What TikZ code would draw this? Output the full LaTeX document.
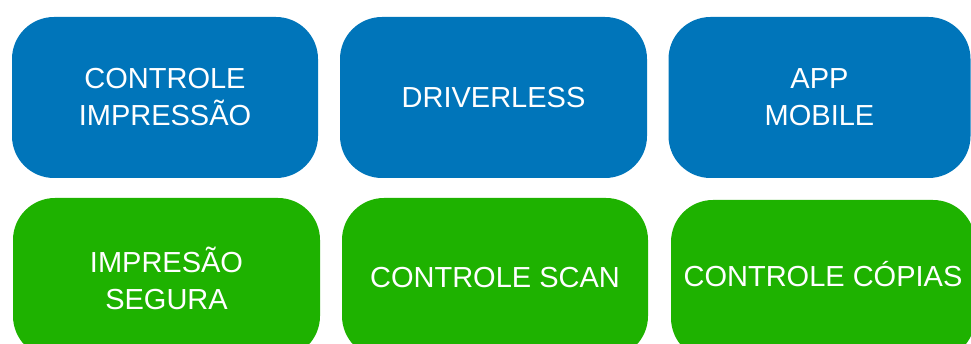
\documentclass[tikz,border=0pt]{standalone}
\usepackage{fontspec}
\setmainfont{Liberation Sans}
\usepackage{tikz}
\usetikzlibrary{positioning}
\definecolor{tileblue}{RGB}{0,117,186}
\definecolor{tilegreen}{RGB}{30,178,0}

\begin{document}
\begin{tikzpicture}[x=1pt,y=-1pt,
  tile/.style={rounded corners=42pt,draw=none,align=center,text=white,
    font=\fontsize{29}{37}\selectfont,inner sep=0pt},
  toptile/.style={tile,fill=tileblue,minimum height=161pt},
  bottile/.style={tile,fill=tilegreen,minimum height=160pt}]
 \useasboundingbox (0,0) rectangle (971,344);
 \clip (0,0) rectangle (971,344);
%top row
  \node[toptile,minimum width=306pt] (impr) at (165,97.5) {CONTROLE\\IMPRESSÃO};
  \node[toptile,minimum width=307pt] (driver) at (493.5,97.5) {DRIVERLESS};
  \node[toptile,minimum width=302pt] (app) at (819.5,97.5) {APP\\MOBILE};
%bottom row
  \node[bottile,minimum width=307pt] (segura) at (166.5,278) {IMPRESÃO\\SEGURA};
  \node[bottile,minimum width=306pt] (scan) at (495,278) {CONTROLE SCAN};
  \node[bottile,minimum width=304pt,text height=14pt,text depth=0pt] (copias) at (823,280) {CONTROLE CÓPIAS};
\end{tikzpicture}
\end{document}
